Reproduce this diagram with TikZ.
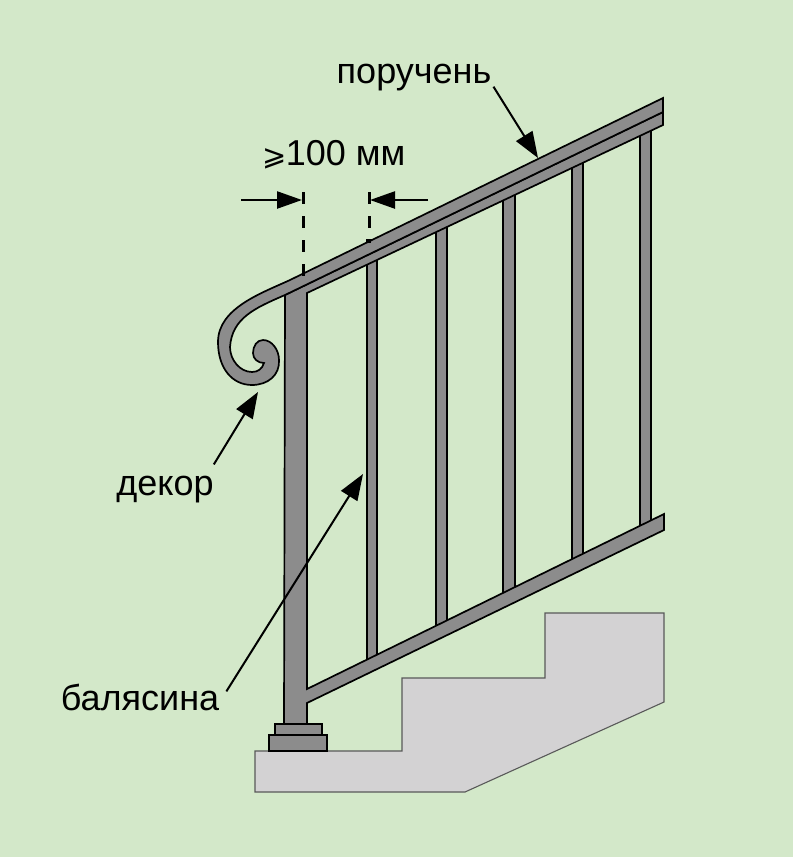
\documentclass[tikz,border=0pt]{standalone}
\usepackage{fontspec}
\setmainfont{Liberation Sans}
\newfontfamily\symfont{DejaVu Sans}
\usetikzlibrary{arrows.meta}
\definecolor{wallgreen}{HTML}{D3E8C9}
\definecolor{railgrey}{HTML}{8C8C8C}
\definecolor{stepgrey}{HTML}{D3D2D3}
\tikzset{
  metal/.style={draw=black,fill=railgrey,line width=1.7pt,line join=miter},
  baluster/.style={metal,line width=1.5pt},
  stepside/.style={draw=black!65,fill=stepgrey,line width=1.1pt},
  caption/.style={inner sep=0pt,anchor=base,font=\fontsize{36}{40}\selectfont},
  callout/.style={draw=black,line width=2pt,-{Triangle[length=26pt,width=19pt]}},
  dimline/.style={draw=black,line width=2.4pt,-{Triangle[length=25pt,width=17pt]}},
  guide/.style={draw=black,line width=3pt,dash pattern=on 12pt off 12pt}
}
\begin{document}
\begin{tikzpicture}[x=1pt,y=-1pt]
\fill[wallgreen] (0,0) rectangle (793,857);
\useasboundingbox (0,0) rectangle (793,857);
\draw[stepside] (255,751)--(402,751)--(402,678)--(545,678)--(545,613)--(664,613)--(664,702)--(465,792)--(255,792)--cycle;
\draw[baluster] (367,240) rectangle (377,664);
\draw[baluster] (436,210) rectangle (447,630);
\draw[baluster] (503,180) rectangle (515,598);
\draw[baluster] (572,150) rectangle (583,564);
\draw[baluster] (640,120) rectangle (651,530);
\draw[metal] (285,295)--(663,112)--(663,125)--(307,293)--(307,689)--(664,514)--(664,530)--(307,703)--(307,724)--(284,724)--cycle;
\draw[metal] (275,724) rectangle (322,735);
\draw[metal] (269,735) rectangle (327,751);
\draw[metal] (663,98)--(290,280) .. controls (262,293) and (218,308) .. (218,342)
  .. controls (218,368) and (232,385) .. (252,385)
  .. controls (268,385) and (280,375) .. (279,360)
  .. controls (279,350) and (272,340) .. (263,340)
  .. controls (257,340) and (253,346) .. (253,353)
  .. controls (253,359) and (258,363) .. (264,363)
  .. controls (262,369) and (258,372) .. (252,372)
  .. controls (240,372) and (230,360) .. (230,347)
  .. controls (232,318) and (255,308) .. (285,295)
  --(663,112)--cycle;
\coordinate (tickleft) at (303,192);
\coordinate (tickleftend) at (303,276);
\coordinate (tickright) at (369,192);
\coordinate (tickrightend) at (369,243);
\draw[guide] (tickleft)--(tickleftend);
\draw[guide] (tickright)--(tickrightend);
\coordinate (dimleftstart) at (241,200);
\coordinate (dimleftend) at (302,200);
\coordinate (dimrightstart) at (428,200);
\coordinate (dimrightend) at (370,200);
\draw[dimline] (dimleftstart)--(dimleftend);
\draw[dimline] (dimrightstart)--(dimrightend);
\node[caption] (gap) at (334,165) {{\symfont\fontsize{29}{30}\selectfont ⩾}\hspace{-1pt}100 мм};
\node[caption] (handrail) at (414,83) {поручень};
\node[caption] (decor) at (165,495) {декор};
\node[caption] (balusterlabel) at (140,710) {балясина};
\coordinate (handrailtip) at (538,158);
\coordinate (decortip) at (258,392);
\coordinate (balustertip) at (363,474);
\draw[callout] ([xshift=2pt,yshift=4pt]handrail.south east)--(handrailtip);
\draw[callout] ([yshift=11pt]decor.north east)--(decortip);
\draw[callout] ([xshift=7pt,yshift=-8pt]balusterlabel.north east)--(balustertip);
\end{tikzpicture}
\end{document}
